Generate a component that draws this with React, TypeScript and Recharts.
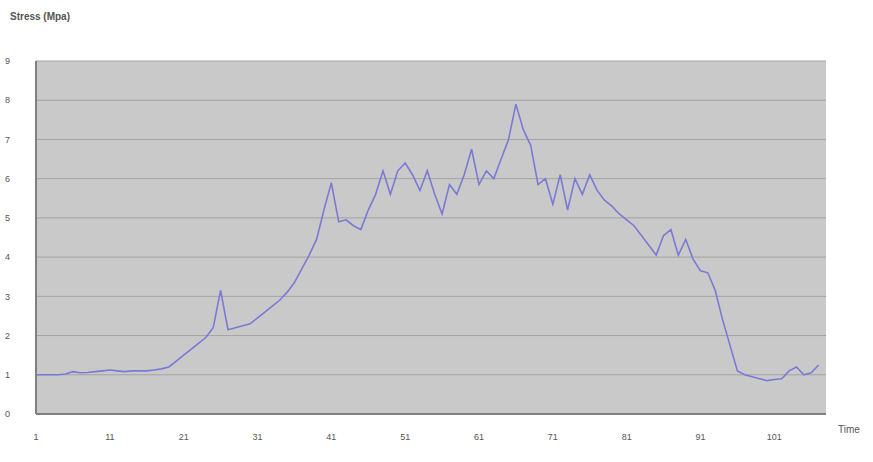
import { LineChart, Line, XAxis, YAxis, CartesianGrid } from "recharts";

// stress readings, one per time step (starting at 1)
const stress = [
  1.0, 1.0, 1.0, 1.0, 1.02, 1.08, 1.05, 1.06, 1.08, 1.1,
  1.12, 1.1, 1.08, 1.1, 1.1, 1.1, 1.12, 1.15, 1.2, 1.35,
  1.5, 1.65, 1.8, 1.95, 2.2, 3.15, 2.15, 2.2, 2.25, 2.3,
  2.45, 2.6, 2.75, 2.9, 3.1, 3.35, 3.7, 4.05, 4.45, 5.2,
  5.9, 4.9, 4.95, 4.8, 4.7, 5.2, 5.6, 6.2, 5.6, 6.2,
  6.4, 6.1, 5.7, 6.2, 5.6, 5.1, 5.85, 5.6, 6.1, 6.75,
  5.85, 6.2, 6.0, 6.5, 7.0, 7.9, 7.25, 6.85, 5.85, 6.0,
  5.35, 6.1, 5.2, 6.0, 5.6, 6.1, 5.7, 5.45, 5.3, 5.1,
  4.95, 4.8, 4.55, 4.3, 4.05, 4.55, 4.7, 4.05, 4.45, 3.95,
  3.65, 3.6, 3.15, 2.4, 1.75, 1.1, 1.0, 0.95, 0.9, 0.85,
  0.88, 0.9, 1.1, 1.2, 1.0, 1.05, 1.25,
];
const xTicks = [1, 11, 21, 31, 41, 51, 61, 71, 81, 91, 101];
const yTicks = [0, 1, 2, 3, 4, 5, 6, 7, 8, 9];

const data = stress.map((v, i) => ({ t: i + 1, stress: v }));

const font = "Arial, 'Liberation Sans', sans-serif";
const tickStyle = { fontSize: 9, fill: "#555", fontFamily: font };

export default function App() {
  return (
    <div style={{ position: "absolute", left: 0, top: 0, width: 873, height: 462, background: "#fff" }}>
      <div style={{ position: "absolute", left: 10, top: 11, fontSize: 10, color: "#555", fontFamily: font, fontWeight: "bold" }}>
        Stress (Mpa)
      </div>
      <div style={{ position: "absolute", left: 838, top: 424, fontSize: 10, color: "#555", fontFamily: font }}>
        Time
      </div>
      <LineChart width={873} height={462} data={data} margin={{ top: 61, right: 47, left: 0, bottom: 18 }}>
        <CartesianGrid fill="#c9c9c9" stroke="#a3a3a3" vertical={false} horizontalValues={yTicks} />
        <XAxis
          dataKey="t"
          type="number"
          domain={[1, 108]}
          ticks={xTicks}
          tick={tickStyle}
          tickLine={false}
          tickMargin={14}
          axisLine={{ stroke: "#808080", strokeWidth: 2 }}
        />
        <YAxis
          width={36}
          domain={[0, 9]}
          ticks={yTicks}
          tick={tickStyle}
          tickLine={false}
          tickMargin={20}
          axisLine={{ stroke: "#808080", strokeWidth: 2 }}
        />
        <Line type="linear" dataKey="stress" stroke="#7a7ad6" strokeWidth={1.6} dot={false} isAnimationActive={false} />
      </LineChart>
    </div>
  );
}
